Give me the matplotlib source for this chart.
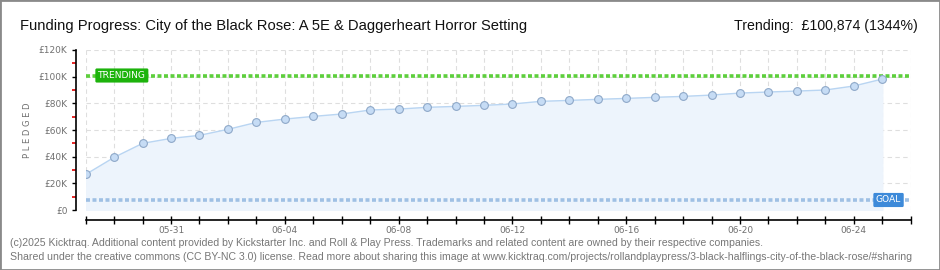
import numpy as np
import pandas as pd
import matplotlib
matplotlib.use("Agg")
import matplotlib.pyplot as plt
from matplotlib.patches import Rectangle
from matplotlib.ticker import FixedLocator, MultipleLocator, FuncFormatter

# data
days = ['05-28', '05-29', '05-30', '05-31', '06-01', '06-02', '06-03', '06-04',
        '06-05', '06-06', '06-07', '06-08', '06-09', '06-10', '06-11', '06-12',
        '06-13', '06-14', '06-15', '06-16', '06-17', '06-18', '06-19', '06-20',
        '06-21', '06-22', '06-23', '06-24', '06-25']
pledged = [26700, 39500, 50000, 53700, 56000, 60500, 65700, 68200,
           70200, 72000, 75000, 75700, 77000, 77700, 78500, 79500,
           81500, 82200, 83000, 83700, 84500, 85200, 86200, 87700,
           88500, 89200, 90000, 93000, 98200]
axis_days = days + ['06-26']
labelled_days = ['05-31', '06-04', '06-08', '06-12', '06-16', '06-20', '06-24']
trending = 100874
goal = 7505

title = "Funding Progress: City of the Black Rose: A 5E & Daggerheart Horror Setting"
trend_text = "Trending:  £100,874 (1344%)"
footer1 = ("(c)2025 Kicktraq. Additional content provided by Kickstarter Inc. and Roll & Play Press. "
           "Trademarks and related content are owned by their respective companies.")
footer2 = ("Shared under the creative commons (CC BY-NC 3.0) license. Read more about sharing this image at "
           "www.kicktraq.com/projects/rollandplaypress/3-black-halflings-city-of-the-black-rose/#sharing")

to_date = lambda d: pd.Timestamp('2025-' + d)
x = [to_date(d) for d in days]
ax_x = [to_date(d) for d in axis_days]

W, H = 940, 270
fig = plt.figure(figsize=(W / 100, H / 100), dpi=100)
fig.patch.set_facecolor('white')
fig.patches.append(Rectangle((0, 0), 1, 1, transform=fig.transFigure, fill=False,
                             edgecolor='#8a8a8a', linewidth=2))

sans = ['Liberation Sans', 'DejaVu Sans']
gray = '#707070'

# plot area in pixels: x 85.7..910.7, y 50..210
ax = fig.add_axes([85.7 / W, 1 - 210 / H, 825 / W, 160 / H])
ax.set_xlim(ax_x[0], ax_x[-1])
ax.set_ylim(0, 120000)

# grid
ax.set_xticks(ax_x)
ax.yaxis.set_major_locator(MultipleLocator(20000))
ax.yaxis.set_minor_locator(FixedLocator(np.arange(10000, 120000, 20000)))
ax.grid(True, which='major', color='#dedede', linestyle=(0, (4, 3)), linewidth=0.8)
ax.set_axisbelow(True)

# area + line + markers
ax.fill_between(x, pledged, 0, color='#edf4fc', zorder=1)
ax.plot(x, pledged, color='#b9d5f2', linewidth=1, zorder=2)
ax.plot(x, pledged, linestyle='none', marker='o', markersize=5.6,
        markerfacecolor='#c6dcf5', markeredgecolor='#8ea8c8', markeredgewidth=0.8, zorder=3)

# trending + goal lines
ax.axhline(trending, color='#5dcf3c', linewidth=2.6, linestyle=(0, (1.1, 0.7)), zorder=2)
ax.axhline(goal, color='#9fc0e4', linewidth=2.6, linestyle=(0, (1.1, 0.7)), zorder=2)

ax.text(ax_x[0] + pd.Timedelta(hours=30.5), trending, 'TRENDING', color='white',
        fontsize=6.6, ha='center', va='center', family='DejaVu Sans', zorder=5,
        bbox=dict(boxstyle='round,pad=0.28,rounding_size=0.15', fc='#1db30c', ec='none'))
ax.text(ax_x[-1] - pd.Timedelta(hours=18.7), goal, 'GOAL', color='white',
        fontsize=6.6, ha='center', va='center', family='DejaVu Sans', zorder=5,
        bbox=dict(boxstyle='round,pad=0.28,rounding_size=0.15', fc='#3d8ad9', ec='none'))

# spines
for s in ['top', 'right']:
    ax.spines[s].set_visible(False)
ax.spines['left'].set_position(('outward', 7))
ax.spines['bottom'].set_position(('outward', 7.4))
for s in ['left', 'bottom']:
    ax.spines[s].set_color('black')
    ax.spines[s].set_linewidth(1.2)

ax.tick_params(axis='y', which='major', length=3, width=1, color='black',
               labelsize=6.5, labelcolor=gray, pad=3)
ax.tick_params(axis='y', which='minor', length=3, width=1.2, color='#e00000')
ax.tick_params(axis='x', which='major', direction='inout', length=6, width=1,
               color='black', labelsize=6.5, labelcolor=gray, pad=1)
ax.yaxis.set_major_formatter(FuncFormatter(lambda v, p: '£0' if v == 0 else '£%dK' % (v / 1000)))
ax.set_xticklabels([d if d in labelled_days else '' for d in axis_days])
for lab in ax.get_xticklabels() + ax.get_yticklabels():
    lab.set_family('DejaVu Sans')

fig.text(27 / W, 1 - 130 / H, 'P L E D G E D', rotation=90, ha='center', va='center',
         fontsize=6, color=gray, family='DejaVu Sans')

# titles
fig.text(20 / W, 1 - 30 / H, title, fontsize=10.6, family=sans, color='#111111', va='baseline')
fig.text(918 / W, 1 - 30 / H, trend_text, fontsize=10.2, family=sans, color='#111111',
         va='baseline', ha='right')

# footer
fig.text(10 / W, 1 - 246 / H, footer1, fontsize=7.6, family=sans, color='#777777', va='baseline')
fig.text(10 / W, 1 - 260 / H, footer2, fontsize=7.6, family=sans, color='#777777', va='baseline')

fig.savefig('out.png', dpi=100)
